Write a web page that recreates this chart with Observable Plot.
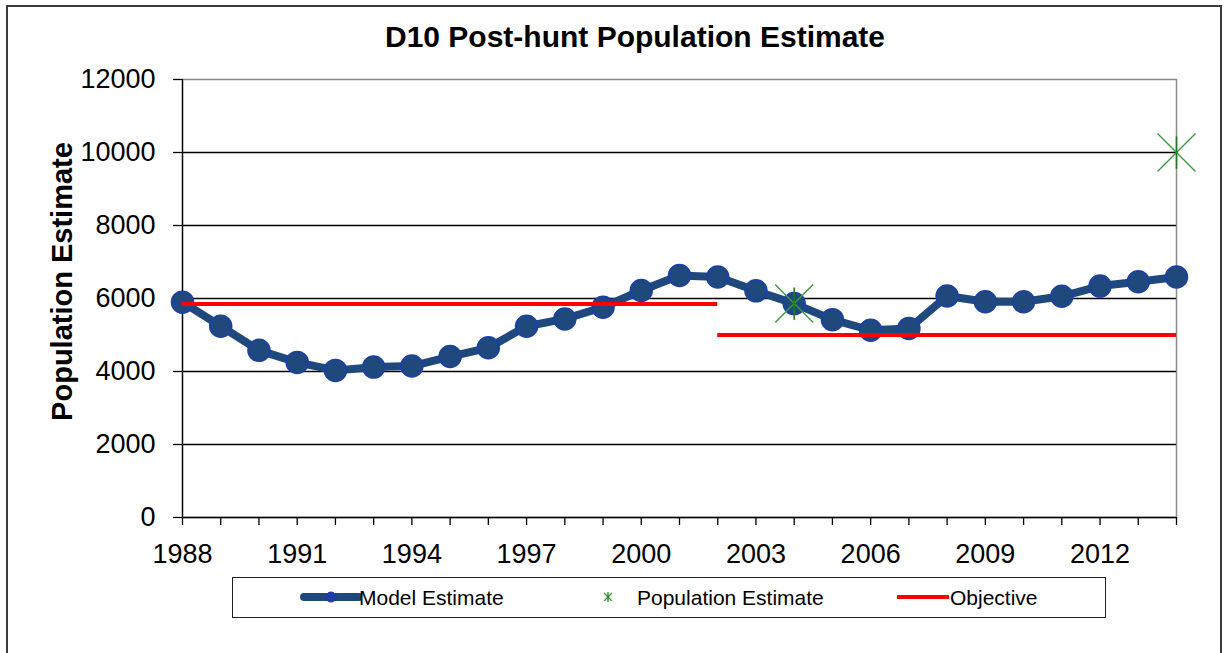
<!DOCTYPE html>
<html>
<head>
<meta charset="utf-8">
<script src="https://cdn.jsdelivr.net/npm/d3@7"></script>
<script src="https://cdn.jsdelivr.net/npm/@observablehq/plot@0.6"></script>
<style>
  html, body { margin: 0; padding: 0; background: #fff; overflow: hidden; }
  #wrap { position: relative; width: 1225px; height: 653px; font-family: "Liberation Sans", Arial, sans-serif; }
  #frame { position: absolute; left: 6px; top: 5px; width: 1216px; height: 700px; border: 2px solid #3a3a3a; box-sizing: border-box; }
  #title { position: absolute; left: 0; width: 1270px; top: 21px; text-align: center; font-weight: bold; font-size: 30px; line-height: 32px; color: #000; white-space: nowrap; }
  #chart { position: absolute; left: 0; top: 0; }
  #legend { position: absolute; left: 232px; top: 577px; width: 874px; height: 41px; border: 1.5px solid #222; box-sizing: border-box; }
  .lg { position: absolute; font-size: 21px; color: #000; white-space: nowrap; line-height: 21px; top: 587px; }
  .lgsym { position: absolute; top: 582px; }
</style>
</head>
<body>
<div id="wrap">
  <div id="frame"></div>
  <div id="chart"></div>
  <div id="title">D10 Post-hunt Population Estimate</div>
  <div id="legend"></div>
  <svg class="lgsym" style="left:300px" width="62" height="30">
    <line x1="4" y1="15" x2="59" y2="15" stroke="#1F497D" stroke-width="8" stroke-linecap="round"></line>
    <circle cx="31" cy="15" r="5" fill="#1F3FA0" stroke="#1c30b0" stroke-width="1"></circle>
  </svg>
  <div class="lg" style="left:359px">Model Estimate</div>
  <svg class="lgsym" style="left:596px" width="24" height="30">
    <line x1="8" y1="11" x2="16" y2="19" stroke="#3c9a3c" stroke-width="1.3"></line>
    <line x1="8" y1="19" x2="16" y2="11" stroke="#3c9a3c" stroke-width="1.3"></line>
    <line x1="12" y1="10" x2="12" y2="20" stroke="#1f7a1f" stroke-width="1.3"></line>
  </svg>
  <div class="lg" style="left:637px">Population Estimate</div>
  <svg class="lgsym" style="left:894px" width="58" height="30">
    <line x1="3" y1="15" x2="55" y2="15" stroke="#ff0000" stroke-width="4"></line>
  </svg>
  <div class="lg" style="left:950px">Objective</div>
</div>
<script>
// ---- data ----
const years = [1988, 1989, 1990, 1991, 1992, 1993, 1994, 1995, 1996, 1997, 1998, 1999, 2000,
               2001, 2002, 2003, 2004, 2005, 2006, 2007, 2008, 2009, 2010, 2011, 2012, 2013, 2014];
const modelEstimate = [5900, 5240, 4580, 4250, 4030, 4120, 4150, 4410, 4650, 5240, 5440, 5760, 6220,
                       6630, 6590, 6210, 5860, 5420, 5130, 5180, 6070, 5910, 5910, 6060, 6340, 6460, 6590];
const popYears = [2004, 2014];
const popValues = [5860, 10000];
const objStart = [1988, 2002];
const objEnd = [2002, 2014];
const objValues = [5850, 5000];
const yTicks = [0, 2000, 4000, 6000, 8000, 10000, 12000];
const gridTicks = [2000, 4000, 6000, 8000, 10000];
const xLabelTicks = [1988, 1991, 1994, 1997, 2000, 2003, 2006, 2009, 2012];
const yLabel = "Population Estimate";

// ---- tables ----
const model = years.map((y, i) => ({year: y, value: modelEstimate[i]}));
const pop = popYears.map((y, i) => ({year: y, value: popValues[i]}));
const objective = objStart.map((s, i) => ({start: s, end: objEnd[i], value: objValues[i]}));

const diagSymbol = {
  draw(ctx, size) {
    const r = Math.sqrt(size / Math.PI);
    ctx.moveTo(-r, -r); ctx.lineTo(r, r);
    ctx.moveTo(-r, r); ctx.lineTo(r, -r);
  }
};
const vertSymbol = {
  draw(ctx, size) {
    const r = Math.sqrt(size / Math.PI);
    ctx.moveTo(0, -r * 0.85); ctx.lineTo(0, r * 0.85);
  }
};

const chart = Plot.plot({
  width: 1225,
  height: 653,
  marginLeft: 182,
  marginRight: 49,
  marginTop: 79,
  marginBottom: 136,
  style: {fontFamily: "'Liberation Sans', Arial, sans-serif", background: "transparent", color: "#000", overflow: "visible"},
  x: {domain: [1988, 2014], axis: null},
  y: {domain: [0, 12000], axis: null},
  marks: [
    Plot.frame({stroke: "#8a8a8a", strokeWidth: 1.5}),
    Plot.gridY({ticks: gridTicks, stroke: "#000", strokeOpacity: 1, strokeWidth: 1.3}),
    Plot.ruleX([1988], {stroke: "#000", strokeWidth: 1.3}),
    Plot.ruleY([0], {stroke: "#000", strokeWidth: 1.3}),
    Plot.axisY({ticks: yTicks, tickSize: 9, tickPadding: 18, fontSize: 27, tickFormat: d => String(d), label: null, strokeWidth: 1.3}),
    Plot.axisX({ticks: years, tickSize: 8, tickFormat: () => "", label: null, strokeWidth: 1.3}),
    Plot.axisX({ticks: xLabelTicks, tickSize: 0, tickPadding: 26, fontSize: 27, tickFormat: d => String(d), label: null}),
    Plot.text([yLabel], {frameAnchor: "left", textAnchor: "middle", dx: -120, dy: -17, rotate: -90, fontSize: 29, fontWeight: "bold", fill: "#000"}),
    Plot.line(model, {x: "year", y: "value", stroke: "#1F497D", strokeWidth: 8}),
    Plot.dot(model, {x: "year", y: "value", r: 11, fill: "#1F497D", stroke: "#1c3fa8", strokeWidth: 1.5}),
    Plot.ruleY(objective, {y: "value", x1: "start", x2: "end", stroke: "#ff0000", strokeWidth: 4}),
    Plot.dot(pop, {x: "year", y: "value", r: 19, symbol: diagSymbol, fill: "none", stroke: "#3c9a3c", strokeWidth: 1.4}),
    Plot.dot(pop, {x: "year", y: "value", r: 19, symbol: vertSymbol, fill: "none", stroke: "#1f7a1f", strokeWidth: 1.6})
  ]
});
document.getElementById("chart").appendChild(chart);
</script>
</body>
</html>
